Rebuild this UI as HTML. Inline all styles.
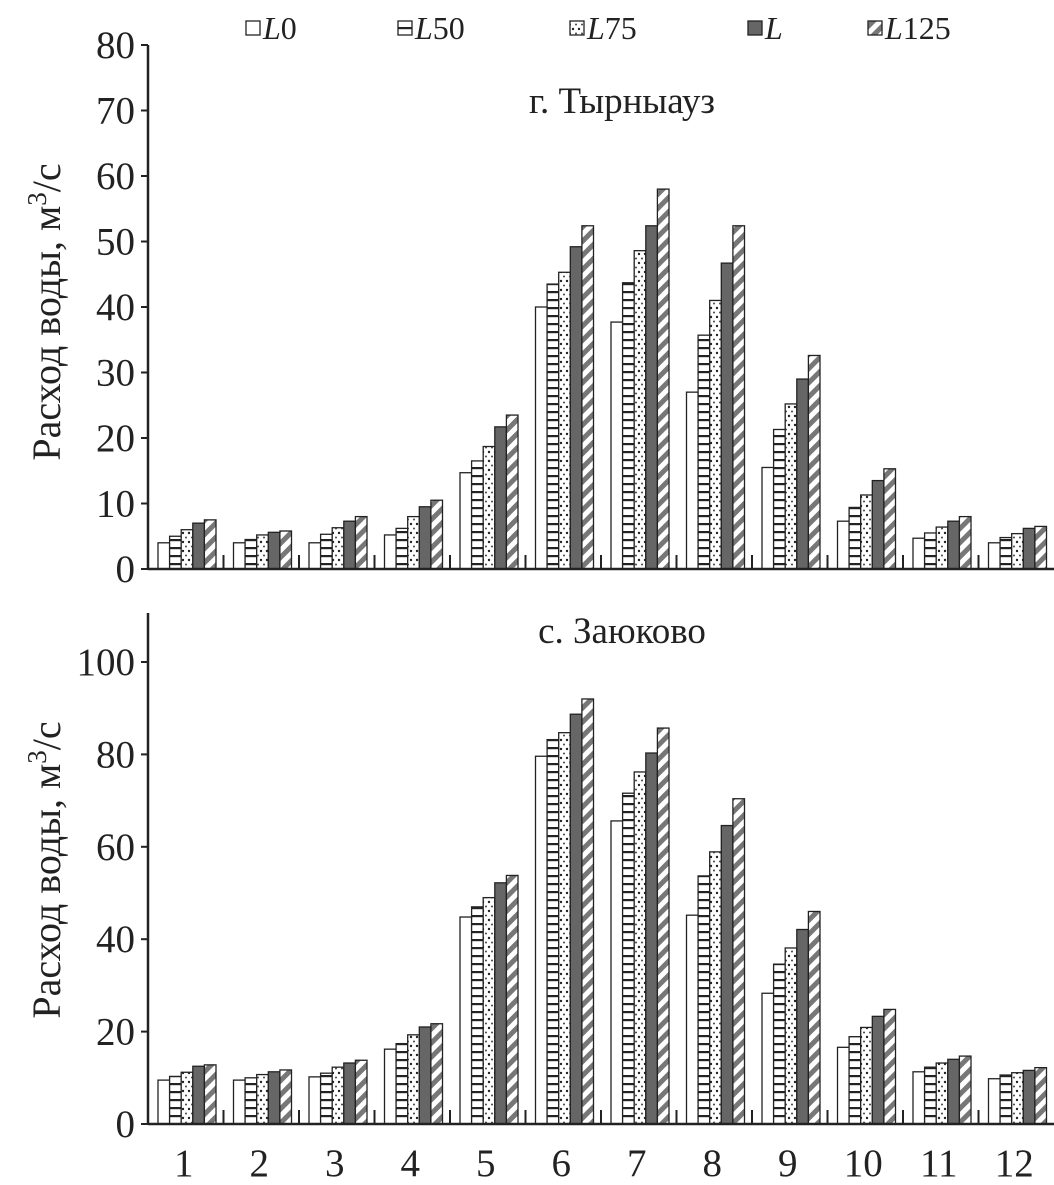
<!DOCTYPE html>
<html><head><meta charset="utf-8"><style>
body{margin:0;background:#fff}
svg{display:block;font-family:"Liberation Serif",serif}
</style></head><body>
<svg id="c" width="1054" height="1185" viewBox="0 0 1054 1185">
<defs>
<pattern id="pH" width="6" height="8" patternUnits="userSpaceOnUse"><rect width="6" height="8" fill="#fff"/><rect y="3" width="6" height="2.2" fill="#222"/></pattern>
<pattern id="pD" width="6" height="9" patternUnits="userSpaceOnUse"><rect width="6" height="9" fill="#fff"/><circle cx="3" cy="2" r="1.2" fill="#222"/><circle cx="0" cy="6.5" r="1" fill="#444"/><circle cx="6" cy="6.5" r="1" fill="#444"/></pattern>
<pattern id="pS" width="10" height="10" patternUnits="userSpaceOnUse" patternTransform="rotate(45)"><rect width="10" height="10" fill="#fff"/><rect width="5" height="10" fill="#777"/></pattern>
</defs>
</svg>
<script>
const months=["1","2","3","4","5","6","7","8","9","10","11","12"];
const seriesNames=["L0","L50","L75","L","L125"];
const topL0=[4,4,4,5.2,14.7,40,37.7,27,15.5,7.3,4.7,4];
const topL50=[5,4.5,5.3,6.2,16.5,43.5,43.7,35.7,21.3,9.4,5.5,4.8];
const topL75=[6,5.2,6.3,8,18.7,45.3,48.6,41,25.2,11.3,6.4,5.4];
const topL=[7,5.6,7.3,9.5,21.7,49.2,52.4,46.7,29,13.5,7.3,6.2];
const topL125=[7.5,5.8,8,10.5,23.5,52.4,58,52.4,32.6,15.3,8,6.5];
const botL0=[9.5,9.5,10.2,16.2,44.8,79.6,65.6,45.2,28.3,16.6,11.3,9.8];
const botL50=[10.3,10,11,17.4,47,83.2,71.6,53.7,34.6,18.9,12.3,10.6];
const botL75=[11.2,10.7,12.3,19.3,49,84.7,76.2,58.9,38.1,20.9,13.2,11.1];
const botL=[12.5,11.3,13.2,21,52.2,88.7,80.3,64.6,42.1,23.3,14,11.6];
const botL125=[12.8,11.7,13.8,21.7,53.8,92,85.7,70.4,46,24.8,14.7,12.2];
const topTicks=[0,10,20,30,40,50,60,70,80];
const botTicks=[0,20,40,60,80,100];
const fills=["#fff","url(#pH)","url(#pD)","#666","url(#pS)"];
const NS="http://www.w3.org/2000/svg",svg=document.getElementById('c');
function el(t,a,p){const e=document.createElementNS(NS,t);for(const k in a)e.setAttribute(k,a[k]);(p||svg).appendChild(e);return e;}
const X0=148,X1=1054,gw=(X1-X0)/12,bw=11.6;
function xg(i){return X0+gw*i;}
function panel(name,data,ticks,ymax,yTop,yBot,axisTop,title,titleY,labelY,showX){
  const g=el('g',{});
  
  
  const ys=v=>yBot-(v/ymax)*(yBot-yTop);
  data.forEach((ser,s)=>ser.forEach((v,i)=>{
    const r=el('rect',{x:xg(i)+10+s*bw,y:ys(v),width:bw,height:yBot-ys(v),fill:fills[s],stroke:"#222","stroke-width":1.3},g);
    
    
  }));
  const ya=el('line',{x1:X0,x2:X0,y1:axisTop,y2:yBot,stroke:"#222","stroke-width":2.5},g);
  
  const xa=el('line',{x1:X0,x2:X1,y1:yBot,y2:yBot,stroke:"#222","stroke-width":2.5},g);
  
  ticks.forEach(t=>{
    el('line',{x1:X0-7,x2:X0,y1:ys(t),y2:ys(t),stroke:"#222","stroke-width":2},g);
    const tx=el('text',{x:X0-13,y:ys(t)+13,"text-anchor":"end","font-size":39,fill:"#222"},g);
    tx.textContent=t;
    
  });
  for(let i=1;i<12;i++)el('line',{x1:xg(i),x2:xg(i),y1:yBot-14,y2:yBot,stroke:"#222","stroke-width":2},g);
  if(showX)months.forEach((m,i)=>{
    const tx=el('text',{x:xg(i)+gw/2-2,y:1176,"text-anchor":"middle","font-size":39,fill:"#222"},g);
    tx.textContent=m;
    
  });
  const tt=el('text',{x:622,y:titleY,"text-anchor":"middle","font-size":37,fill:"#222"},g);
  tt.textContent=title;
  
  const yl=el('text',{transform:`translate(60,${labelY}) rotate(-90)`,"text-anchor":"middle","font-size":40,fill:"#222"},g);
  yl.innerHTML='Расход воды, м<tspan dy="-14" font-size="27">3</tspan><tspan dy="14">/с</tspan>';
  
}
panel('top-panel',[topL0,topL50,topL75,topL,topL125],topTicks,80,45,569,45,'г. Тырныауз',113,312,false);
panel('bottom-panel',[botL0,botL50,botL75,botL,botL125],botTicks,100,662,1124,613,'с. Заюково',643,870,true);
// legend
const lx=[246,398,570,748,868];
seriesNames.forEach((n,s)=>{
  const lg=el('g',{});
  
  
  el('rect',{x:lx[s],y:21,width:14,height:14,fill:fills[s],stroke:"#222","stroke-width":1.3},lg);
  const t=el('text',{x:lx[s]+17,y:39,"font-size":32,"font-style":"italic",fill:"#222"},lg);
  const m=n.match(/^L(.*)$/);
  t.innerHTML='L<tspan font-style="normal">'+m[1]+'</tspan>';
});
</script>
</body></html>
